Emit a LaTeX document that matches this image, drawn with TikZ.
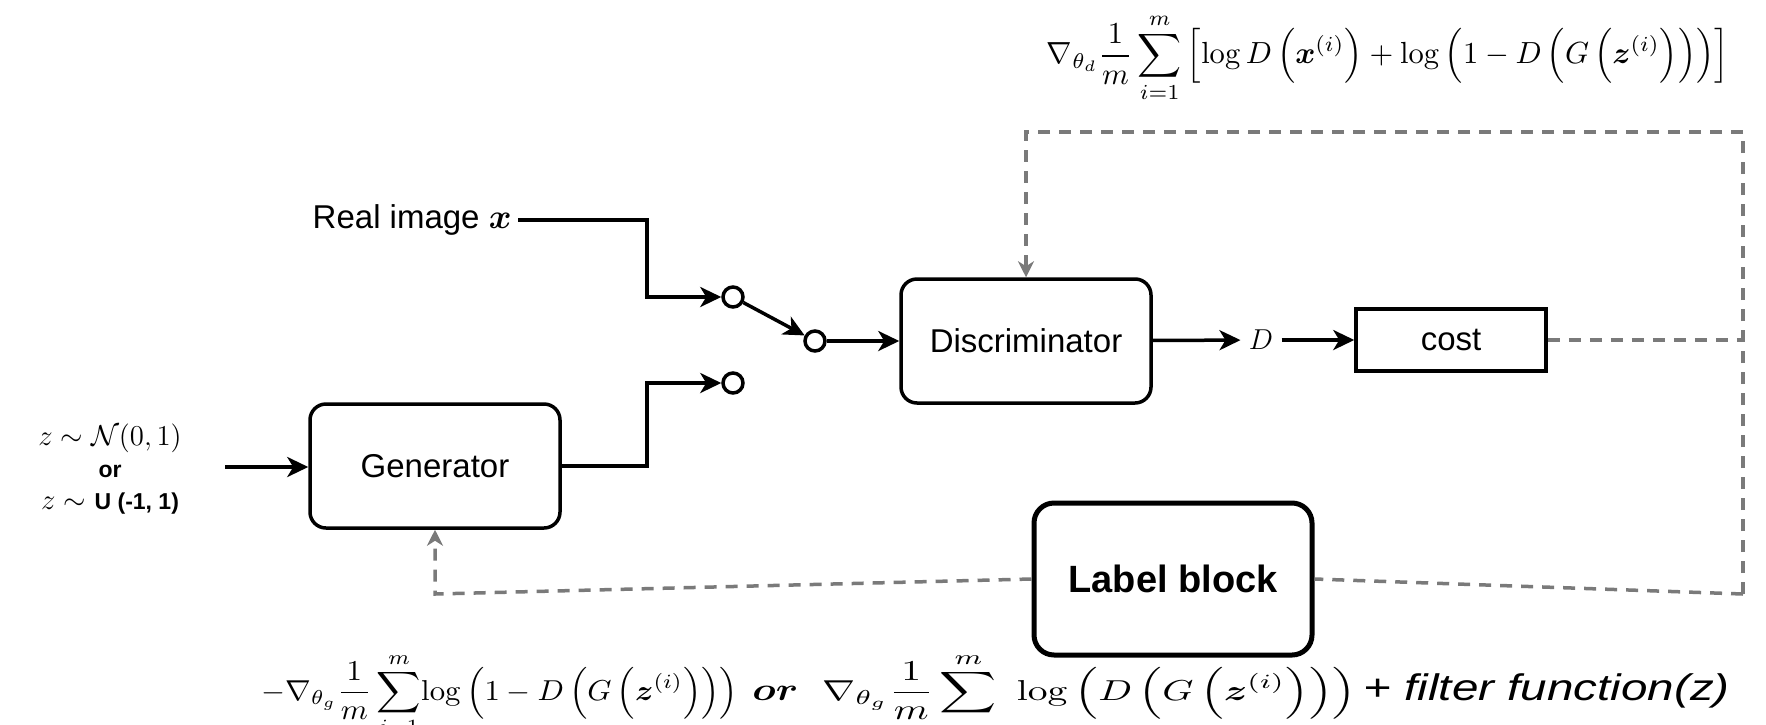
\documentclass[tikz,border=0pt]{standalone}
\usepackage{amsmath,amssymb}
\usepackage{bm}
\usepackage[no-math]{fontspec}
\usepackage{graphicx}
\newfontfamily\sansfam{Liberation Sans}
\usetikzlibrary{arrows.meta,shapes.geometric,calc}

\definecolor{fbgray}{HTML}{7A7A7A}

\tikzset{
  block/.style={draw, line width=1.75pt, rounded corners=8pt,
    minimum width=125pt, minimum height=62pt,
    font=\sansfam\fontsize{16.5}{20}\selectfont},
  costbox/.style={draw, line width=1.75pt, minimum width=95pt, minimum height=31pt,
    font=\sansfam\fontsize{16.5}{20}\selectfont},
  labelbox/.style={draw, line width=2.5pt, rounded corners=10pt,
    minimum width=139pt, minimum height=76pt,
    font=\sansfam\bfseries\fontsize{19}{23}\selectfont},
  term/.style={draw, circle, line width=1.75pt, minimum size=10pt, inner sep=0pt},
  flow/.style={line width=1.75pt, -{Stealth[length=10.5pt,width=10pt,inset=3pt]}},
  fb/.style={fbgray, line width=1.75pt, dash pattern=on 6pt off 4.5pt},
  fbarrow/.style={fb, -{Stealth[length=8pt,width=8pt,inset=2.5pt]}},
  rule/.style={anchor=base west, inner sep=0pt},
}

\begin{document}
\begin{tikzpicture}[x=0.5pt,y=-0.5pt]
\useasboundingbox (0,0) rectangle (1766,724);

% blocks
\node[block] (gen) at (435,466) {Generator};
\node[block] (disc) at (1026,341) {Discriminator};
\node[costbox] (cost) at (1451,340) {cost};
\node[font=\fontsize{14}{17}\selectfont, inner sep=4pt] (dout) at (1261,340) {$D$};
\node[labelbox] (label) at (1173,579) {Label block};

% inputs
\node[anchor=east, font=\sansfam\fontsize{16.5}{20}\selectfont, inner sep=3pt]
  (real) at (518,220) {Real image $\bm{x}$};
\node[align=center, font=\fontsize{13.5}{16}\selectfont] (noise) at (110,469)
  {$z\sim\mathcal{N}(0,1)$\\ {\sansfam\bfseries\fontsize{11.5}{16}\selectfont or}\\
   $z\sim$ {\sansfam\bfseries\fontsize{11.5}{16}\selectfont U (-1, 1)}};
\coordinate (zin) at (225,467);

% switch terminals
\node[term] (c1) at (733,297) {};
\node[term] (c2) at (815,341) {};
\node[term] (c3) at (733,383) {};

% bends
\coordinate (j1) at (647,220);
\coordinate (j2) at (647,466);

% forward path
\draw[flow] (zin) -- (gen.west |- zin);
\draw[flow] (real.east) -- (j1) |- (c1);
\draw[flow] (gen.east) -- (j2) |- (c3);
\draw[flow] (c1) -- (c2);
\draw[flow] (c2) -- (disc);
\draw[flow] (disc) -- (dout);
\draw[flow] (dout) -- (cost);

% feedback loops
\coordinate (tr) at (1743,132);
\coordinate (br) at (1743,594);
\coordinate (tl) at (disc.north |- tr);
\coordinate (bl) at (gen.south |- br);
\draw[fb] (cost.east) -- (cost.east -| tr);
\draw[fbarrow] (br) -- (tr) -- (tl) -- (disc.north);
\draw[fb] (br) -- (label.east);
\draw[fbarrow] (label.west) -- (bl) -- (gen.south);

% discriminator update rule
\node (gradd) at (1388,58) {\resizebox{341pt}{!}{$\displaystyle
  \nabla_{\theta_d}\frac{1}{m}\sum_{i=1}^{m}\left[\log D\left(\bm{x}^{(i)}\right)
  +\log\left(1-D\left(G\left(\bm{z}^{(i)}\right)\right)\right)\right]$}};

% generator update rule
\node[rule] (ga) at (261,700) {\scalebox{1.54}[1.44]{$\displaystyle
  -\nabla_{\theta_g}\frac{1}{m}\sum_{i=1}^{m}\!\log\left(1-D\left(G\left(\bm{z}^{(i)}\right)\right)\right)$}};
\node[rule] (gor) at (752,700) {\scalebox{2.0}[1.6]{$\bm{or}$}};
\node[rule] (gb) at (822,700) {\scalebox{1.98}[1.44]{$\displaystyle
  \nabla_{\theta_g}\frac{1}{m}\sum^{m}\ \log\left(D\left(G\left(\bm{z}^{(i)}\right)\right)\right)$}};
\node[rule] (gc) at (1363,700) {\scalebox{2.38}[1.85]{\sansfam\itshape + filter function(z)}};
\end{tikzpicture}
\end{document}
